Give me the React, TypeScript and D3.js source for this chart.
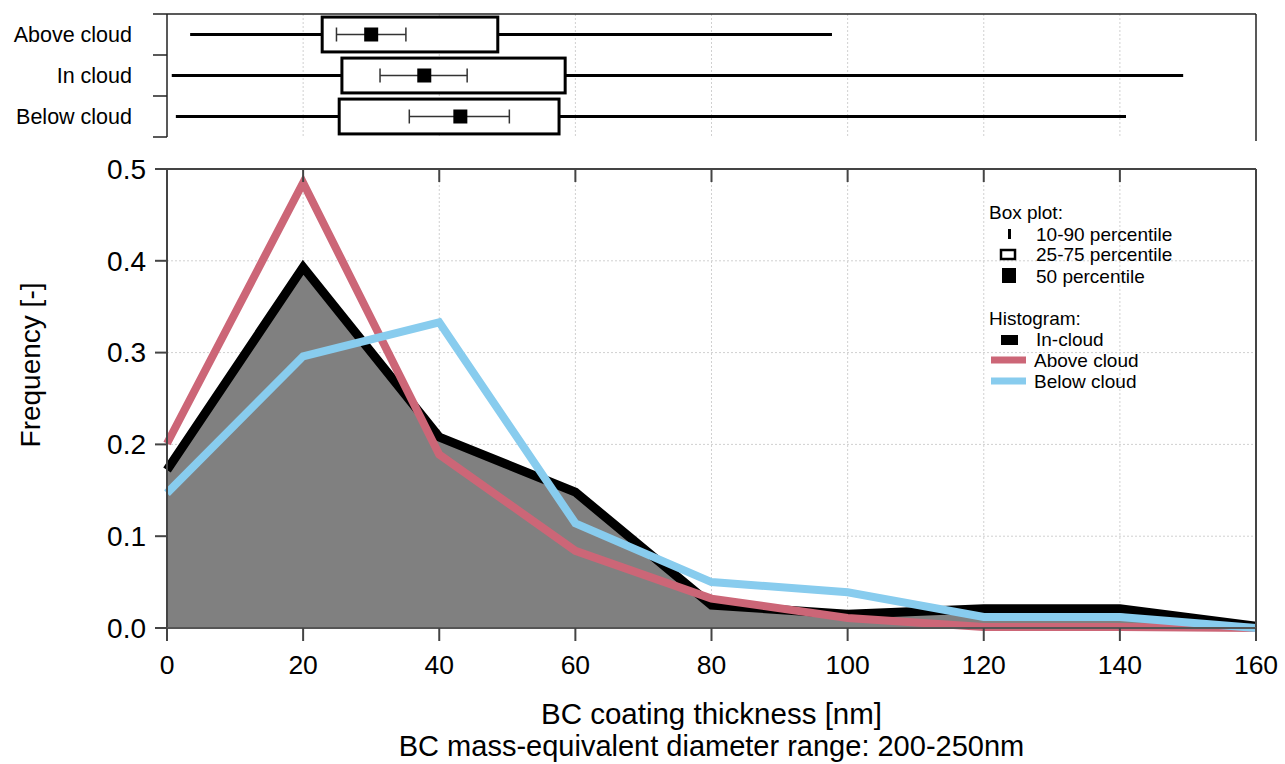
import React, { useEffect, useRef } from "react";
import * as d3 from "d3";

// histogram bins (coating thickness, nm)
const binEdges = [0, 20, 40, 60, 80, 100, 120, 140, 160];
const inCloud = [0.172, 0.393, 0.208, 0.148, 0.025, 0.015, 0.021, 0.021, 0.002];
const aboveCloud = [0.201, 0.485, 0.189, 0.084, 0.032, 0.011, 0.001, 0.001, 0.0];
const belowCloud = [0.147, 0.296, 0.333, 0.114, 0.05, 0.039, 0.012, 0.012, 0.0];

const xTicks = [0, 20, 40, 60, 80, 100, 120, 140, 160];
const yTicks = [0, 0.1, 0.2, 0.3, 0.4, 0.5];

// box plot stats per group
const boxGroups = ["Above cloud", "In cloud", "Below cloud"];
const whiskerLow = [3.4, 0.7, 1.3];
const whiskerHigh = [97.7, 149.3, 140.9];
const boxQ1 = [22.8, 25.7, 25.3];
const boxQ3 = [48.6, 58.5, 57.6];
const boxMedian = [30.0, 37.8, 43.1];
const errLow = [24.9, 31.3, 35.6];
const errHigh = [35.1, 44.1, 50.3];

const RED = "#CC6677";
const BLUE = "#88CCEE";
const FONT = "'Liberation Sans', Arial, sans-serif";

export default function App() {
  const ref = useRef<SVGSVGElement>(null);

  useEffect(() => {
    const svg = d3.select(ref.current);
    svg.selectAll("*").remove();

    const left = 167, right = 1256, top = 169, bottom = 628;
    const x = d3.scaleLinear().domain([0, 160]).range([left, right]);
    const y = d3.scaleLinear().domain([0, 0.5]).range([bottom, top]);

    // ---- top box-plot panel ----
    const bTop = 14, bBottom = 137;
    const band = d3.scaleBand().domain(boxGroups).range([bTop, bBottom]);
    const bw = band.bandwidth();

    const gb = svg.append("g");
    gb.selectAll(".vgrid")
      .data(xTicks.slice(1, -1))
      .enter()
      .append("line")
      .attr("x1", d => x(d)).attr("x2", d => x(d))
      .attr("y1", bTop).attr("y2", bBottom)
      .attr("stroke", "#d0d0d0").attr("stroke-dasharray", "2,2");

    gb.append("line").attr("x1", left - 14).attr("x2", right).attr("y1", bTop).attr("y2", bTop)
      .attr("stroke", "#222").attr("stroke-width", 1.5);
    gb.append("line").attr("x1", left).attr("x2", left).attr("y1", bTop).attr("y2", bBottom)
      .attr("stroke", "#222").attr("stroke-width", 1.5);
    gb.append("line").attr("x1", right).attr("x2", right).attr("y1", bTop).attr("y2", bBottom + 4)
      .attr("stroke", "#222").attr("stroke-width", 1.5);
    const bounds = boxGroups.map(g => band(g)! + bw);
    gb.selectAll(".btick")
      .data(bounds)
      .enter()
      .append("line")
      .attr("x1", left - 14).attr("x2", left)
      .attr("y1", d => d).attr("y2", d => d)
      .attr("stroke", "#222").attr("stroke-width", 1.5);

    boxGroups.forEach((g, i) => {
      const cy = band(g)! + bw / 2;
      const bh = bw * 0.85;
      gb.append("text")
        .attr("x", 132).attr("y", cy).attr("dy", "0.35em")
        .attr("text-anchor", "end")
        .attr("font-family", FONT).attr("font-size", 21.5)
        .text(g);
      gb.append("line").attr("x1", x(whiskerLow[i])).attr("x2", x(boxQ1[i]))
        .attr("y1", cy).attr("y2", cy).attr("stroke", "#000").attr("stroke-width", 3);
      gb.append("line").attr("x1", x(boxQ3[i])).attr("x2", x(whiskerHigh[i]))
        .attr("y1", cy).attr("y2", cy).attr("stroke", "#000").attr("stroke-width", 3);
      gb.append("rect")
        .attr("x", x(boxQ1[i])).attr("y", cy - bh / 2)
        .attr("width", x(boxQ3[i]) - x(boxQ1[i])).attr("height", bh)
        .attr("fill", "#fff").attr("stroke", "#000").attr("stroke-width", 3);
      gb.append("line").attr("x1", x(errLow[i])).attr("x2", x(errHigh[i]))
        .attr("y1", cy).attr("y2", cy).attr("stroke", "#333").attr("stroke-width", 1.5);
      [errLow[i], errHigh[i]].forEach(v => {
        gb.append("line").attr("x1", x(v)).attr("x2", x(v))
          .attr("y1", cy - 7).attr("y2", cy + 7).attr("stroke", "#333").attr("stroke-width", 1.5);
      });
      gb.append("rect")
        .attr("x", x(boxMedian[i]) - 7).attr("y", cy - 7)
        .attr("width", 14).attr("height", 14).attr("fill", "#000");
    });

    // ---- bottom histogram panel ----
    const g = svg.append("g");
    g.selectAll(".xgrid")
      .data(xTicks.slice(1, -1))
      .enter()
      .append("line")
      .attr("x1", d => x(d)).attr("x2", d => x(d))
      .attr("y1", top).attr("y2", bottom)
      .attr("stroke", "#d0d0d0").attr("stroke-dasharray", "2,2");
    g.selectAll(".ygrid")
      .data(yTicks.slice(1, -1))
      .enter()
      .append("line")
      .attr("x1", left).attr("x2", right)
      .attr("y1", d => y(d)).attr("y2", d => y(d))
      .attr("stroke", "#d0d0d0").attr("stroke-dasharray", "2,2");

    const area = d3.area<number>()
      .x((_, i) => x(binEdges[i]))
      .y0(y(0))
      .y1(d => y(d));
    g.append("path").attr("d", area(inCloud)!).attr("fill", "#808080");

    const line = d3.line<number>()
      .x((_, i) => x(binEdges[i]))
      .y(d => y(d));
    [[inCloud, "#000", 9], [aboveCloud, RED, 8], [belowCloud, BLUE, 8]].forEach(([data, color, w]) => {
      g.append("path")
        .attr("d", line(data as number[])!)
        .attr("fill", "none")
        .attr("stroke", color as string)
        .attr("stroke-width", w as number)
        .attr("stroke-linejoin", "miter")
        .attr("stroke-miterlimit", 10);
    });

    // frame
    g.append("line").attr("x1", left).attr("x2", right).attr("y1", top).attr("y2", top)
      .attr("stroke", "#444").attr("stroke-width", 2);
    g.append("line").attr("x1", right).attr("x2", right).attr("y1", top).attr("y2", bottom + 13)
      .attr("stroke", "#444").attr("stroke-width", 2);
    g.append("line").attr("x1", left).attr("x2", left).attr("y1", top).attr("y2", bottom + 13)
      .attr("stroke", "#444").attr("stroke-width", 2);
    g.append("line").attr("x1", left - 12).attr("x2", right).attr("y1", bottom).attr("y2", bottom)
      .attr("stroke", "#555").attr("stroke-width", 2);

    // top inner ticks
    g.selectAll(".ttick")
      .data(xTicks.slice(1, -1))
      .enter()
      .append("line")
      .attr("x1", d => x(d)).attr("x2", d => x(d))
      .attr("y1", top).attr("y2", top + 13)
      .attr("stroke", "#444").attr("stroke-width", 2);

    // x axis
    const xa = g.append("g");
    xTicks.forEach(t => {
      xa.append("line").attr("x1", x(t)).attr("x2", x(t)).attr("y1", bottom).attr("y2", bottom + 13)
        .attr("stroke", "#444").attr("stroke-width", 2);
      xa.append("text")
        .attr("x", x(t)).attr("y", 665).attr("dy", "0.35em")
        .attr("text-anchor", "middle")
        .attr("font-family", FONT).attr("font-size", 26.5)
        .text(t);
    });
    // y axis
    const ya = g.append("g");
    yTicks.forEach(t => {
      ya.append("line").attr("x1", left - 12).attr("x2", left).attr("y1", y(t)).attr("y2", y(t))
        .attr("stroke", "#444").attr("stroke-width", 2);
      ya.append("text")
        .attr("x", 146).attr("y", y(t)).attr("dy", "0.35em")
        .attr("text-anchor", "end")
        .attr("font-family", FONT).attr("font-size", 28)
        .text(d3.format(".1f")(t));
    });

    svg.append("text")
      .attr("transform", "translate(30,365) rotate(-90)")
      .attr("dy", "0.35em")
      .attr("text-anchor", "middle")
      .attr("font-family", FONT).attr("font-size", 28)
      .text("Frequency [-]");
    svg.append("text")
      .attr("x", (left + right) / 2).attr("y", 714).attr("dy", "0.35em")
      .attr("text-anchor", "middle")
      .attr("font-family", FONT).attr("font-size", 29.5)
      .text("BC coating thickness [nm]");
    svg.append("text")
      .attr("x", (left + right) / 2).attr("y", 746).attr("dy", "0.35em")
      .attr("text-anchor", "middle")
      .attr("font-family", FONT).attr("font-size", 29)
      .text("BC mass-equivalent diameter range: 200-250nm");

    // legend
    const lg = svg.append("g").attr("font-family", FONT).attr("font-size", 19);
    const txt = (tx: number, ty: number, s: string) =>
      lg.append("text").attr("x", tx).attr("y", ty).attr("dy", "0.35em").text(s);
    txt(989, 212, "Box plot:");
    lg.append("rect").attr("x", 1008).attr("y", 229).attr("width", 3).attr("height", 10).attr("fill", "#000");
    txt(1036, 234, "10-90 percentile");
    lg.append("rect").attr("x", 1001).attr("y", 250).attr("width", 14).attr("height", 9)
      .attr("fill", "#fff").attr("stroke", "#000").attr("stroke-width", 2.5);
    txt(1036, 254, "25-75 percentile");
    lg.append("rect").attr("x", 1002).attr("y", 268).attr("width", 14).attr("height", 15).attr("fill", "#000");
    txt(1036, 276, "50 percentile");
    txt(989, 318, "Histogram:");
    lg.append("rect").attr("x", 1001).attr("y", 335).attr("width", 17).attr("height", 10).attr("fill", "#000");
    txt(1036, 339, "In-cloud");
    lg.append("line").attr("x1", 991).attr("x2", 1026).attr("y1", 360).attr("y2", 360)
      .attr("stroke", RED).attr("stroke-width", 7);
    txt(1034, 360, "Above cloud");
    lg.append("line").attr("x1", 991).attr("x2", 1026).attr("y1", 381).attr("y2", 381)
      .attr("stroke", BLUE).attr("stroke-width", 7);
    txt(1034, 381, "Below cloud");
  }, []);

  return (
    <svg
      ref={ref}
      width={1285}
      height={764}
      style={{ position: "absolute", left: 0, top: 0, background: "#fff" }}
    />
  );
}
